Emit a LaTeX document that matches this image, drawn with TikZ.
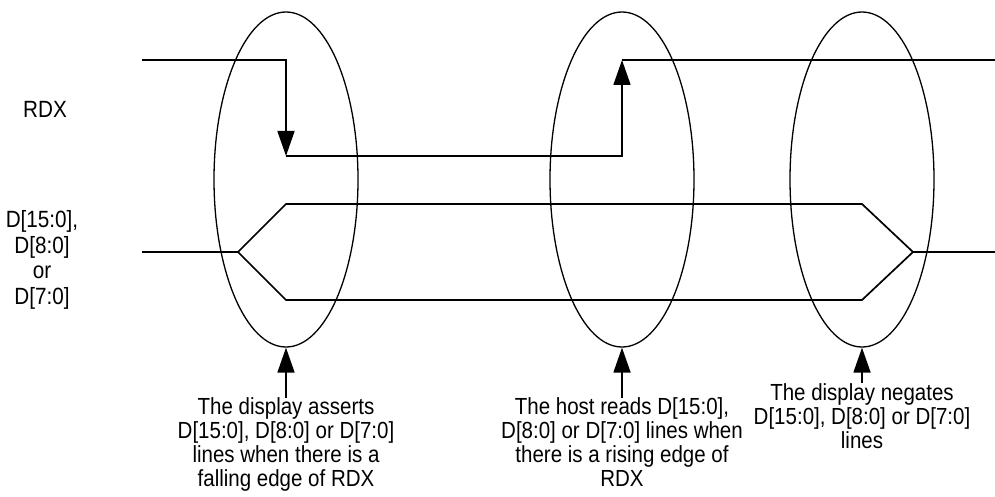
\documentclass[tikz,border=0pt]{standalone}
\usepackage{fontspec}
\setmainfont[FakeStretch=0.88]{Liberation Sans}
\usetikzlibrary{shapes.geometric,arrows.meta}
\begin{document}
\begin{tikzpicture}[x=1pt,y=-1pt,
 sig/.style={line width=1.7pt, line join=miter},
 oval/.style={draw, ellipse, line width=1.3pt, minimum width=144pt, minimum height=335pt, inner sep=0pt},
 tip/.style={-{Triangle[length=25pt,width=17pt]}},
 lbl/.style={font=\fontsize{23.5}{25.5}\selectfont, align=center, inner sep=0pt},
 note/.style={font=\fontsize{23.3}{24}\selectfont, align=center, inner sep=0pt, anchor=north}]
\useasboundingbox (0,0) rectangle (995,497);
% ellipses
\node[oval] (e1) at (286,179.5) {};
\node[oval] (e2) at (622,179.5) {};
\node[oval] (e3) at (862,179.5) {};
% RDX waveform
\coordinate (r0) at (142,60);
\coordinate (r1) at (286,60);
\coordinate (r2) at (286,156);
\coordinate (r3) at (622,156);
\coordinate (r4) at (622,60);
\coordinate (r5) at (995,60);
\draw[sig,tip] (r0) -- (r1) -- (r2);
\draw[sig,tip] (r2) -- (r3) -- (r4);
\draw[sig] (r4) -- (r5);
% data bus waveform
\coordinate (d0) at (142,252);
\coordinate (ds) at (238,252);
\coordinate (du1) at (286,204);
\coordinate (du2) at (862,204);
\coordinate (dj) at (913,252);
\coordinate (d5) at (995,252);
\coordinate (dl1) at (286,300);
\coordinate (dl2) at (862,300);
\draw[sig] (d0) -- (ds) -- (du1) -- (du2) -- (dj) -- (d5);
\draw[sig] (ds) -- (dl1) -- (dl2) -- (dj);
% labels
\node[lbl] (rdx) at (45,109) {RDX};
\node[lbl] (dlab) at (42,260) {D[15:0],\\D[8:0]\\or\\D[7:0]};
% notes
\node[note] (n1) at (286,397.5) {The display asserts\\D[15:0], D[8:0] or D[7:0]\\lines when there is a\\falling edge of RDX};
\node[note] (n2) at (622,397.5) {The host reads D[15:0],\\D[8:0] or D[7:0] lines when\\there is a rising edge of\\RDX};
\node[note] (n3) at (862,383) {The display negates\\D[15:0], D[8:0] or D[7:0]\\lines};
\draw[sig,tip] (n1.north) -- (e1.south);
\draw[sig,tip] (n2.north) -- (e2.south);
\draw[sig,tip] (n3.north) -- (e3.south);
\end{tikzpicture}
\end{document}
